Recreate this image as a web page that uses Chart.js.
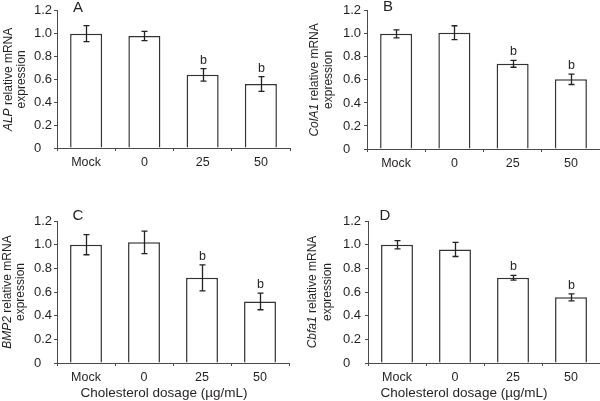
<!DOCTYPE html>
<html>
<head>
<meta charset="utf-8">
<script src="https://cdn.jsdelivr.net/npm/chart.js@4/dist/chart.umd.min.js"></script>
<style>
  html, body { margin: 0; padding: 0; background: #fff; }
  #wrap { position: relative; width: 600px; height: 401px; overflow: hidden; }
  canvas { position: absolute; }
</style>
</head>
<body>
<div id="wrap">
  <canvas id="cA" width="300" height="200" style="left:0;top:0"></canvas>
  <canvas id="cB" width="300" height="200" style="left:300px;top:0"></canvas>
  <canvas id="cC" width="300" height="201" style="left:0;top:200px"></canvas>
  <canvas id="cD" width="300" height="201" style="left:300px;top:200px"></canvas>
</div>
<script>
// ---- data ----
const categories = ['Mock', '0', '25', '50'];
const yTicks = [0, 0.2, 0.4, 0.6, 0.8, 1.0, 1.2];
const significance = ['', '', 'b', 'b'];

const alpValues   = [1.00, 0.98, 0.64, 0.56];
const alpErrors   = [0.07, 0.04, 0.055, 0.065];

const colValues   = [1.00, 1.01, 0.74, 0.605];
const colErrors   = [0.035, 0.06, 0.03, 0.045];

const bmpValues   = [1.00, 1.02, 0.72, 0.52];
const bmpErrors   = [0.085, 0.095, 0.11, 0.07];

const cbfaValues  = [1.00, 0.96, 0.72, 0.555];
const cbfaErrors  = [0.035, 0.06, 0.02, 0.03];

const panelLetters = ['A', 'B', 'C', 'D'];
const geneNames = ['ALP', 'ColA1', 'BMP2', 'Cbfa1'];
const yTitleRest = ' relative mRNA';
const yTitleLine2 = 'expression';
const xTitle = 'Cholesterol dosage (µg/mL)';

// ---- styles ----
const FONT = '"Liberation Sans", Arial, sans-serif';
const TEXT = '#231f20';
const AXIS = '#4a4a4a';
const BAR_EDGE = '#333333';

const annotate = {
  id: 'annotate',
  afterDatasetsDraw(chart, args, opts) {
    const ctx = chart.ctx;
    const y = chart.scales.y;
    const meta = chart.getDatasetMeta(0);
    ctx.save();
    ctx.strokeStyle = '#222';
    ctx.lineWidth = 1.3;
    meta.data.forEach((bar, i) => {
      const v = opts.values[i], e = opts.errors[i];
      const yt = y.getPixelForValue(v + e), yb = y.getPixelForValue(v - e);
      const x = Math.round(bar.x) + 0.5;
      ctx.beginPath();
      ctx.moveTo(x, yt); ctx.lineTo(x, yb);
      ctx.moveTo(x - 3, yt); ctx.lineTo(x + 3, yt);
      ctx.moveTo(x - 3, yb); ctx.lineTo(x + 3, yb);
      ctx.stroke();
      if (significance[i]) {
        ctx.fillStyle = TEXT;
        ctx.font = '12.5px ' + FONT;
        ctx.textAlign = 'center';
        ctx.textBaseline = 'alphabetic';
        ctx.fillText(significance[i], x, yt - 5);
      }
    });
    ctx.restore();
  },
  afterDraw(chart, args, opts) {
    const ctx = chart.ctx;
    const ca = chart.chartArea;
    ctx.save();
    ctx.fillStyle = TEXT;
    // panel letter
    ctx.font = '15px ' + FONT;
    ctx.textAlign = 'center';
    ctx.textBaseline = 'middle';
    ctx.fillText(opts.letter, opts.letterX, opts.letterY);
    // y title (rotated, italic gene name)
    const cy = (ca.top + ca.bottom) / 2;
    ctx.font = 'italic 12px ' + FONT;
    const w1 = ctx.measureText(opts.gene).width;
    ctx.font = '12px ' + FONT;
    const w2 = ctx.measureText(yTitleRest).width;
    ctx.save();
    ctx.translate(opts.title1X, cy);
    ctx.rotate(-Math.PI / 2);
    ctx.textAlign = 'left';
    ctx.textBaseline = 'middle';
    const start = -(w1 + w2) / 2;
    ctx.font = 'italic 12px ' + FONT;
    ctx.fillText(opts.gene, start, 0);
    ctx.font = '12px ' + FONT;
    ctx.fillText(yTitleRest, start + w1, 0);
    ctx.restore();
    ctx.save();
    ctx.translate(opts.title2X, cy);
    ctx.rotate(-Math.PI / 2);
    ctx.textAlign = 'center';
    ctx.textBaseline = 'middle';
    ctx.font = '12px ' + FONT;
    ctx.fillText(yTitleLine2, 0, 0);
    ctx.restore();
    // x title
    if (opts.xTitle) {
      ctx.font = '13.5px ' + FONT;
      ctx.textAlign = 'center';
      ctx.textBaseline = 'middle';
      ctx.fillText(xTitle, opts.xTitleX, opts.xTitleY);
    }
    ctx.restore();
  }
};

function makePanel(cfg) {
  new Chart(document.getElementById(cfg.id), {
    type: 'bar',
    data: {
      labels: categories,
      datasets: [{
        data: cfg.values,
        backgroundColor: '#ffffff',
        borderColor: BAR_EDGE,
        borderWidth: 1.5,
        barPercentage: 0.55,
        categoryPercentage: 1.0
      }]
    },
    options: {
      responsive: false,
      animation: false,
      layout: { padding: cfg.pad },
      plugins: {
        legend: { display: false },
        tooltip: { enabled: false },
        annotate: {
          values: cfg.values, errors: cfg.errors, letter: cfg.letter, gene: cfg.gene,
          letterX: cfg.letterX, letterY: cfg.letterY,
          title1X: cfg.title1X, title2X: cfg.title2X,
          xTitle: cfg.xTitle, xTitleX: cfg.xTitleX, xTitleY: cfg.xTitleY
        }
      },
      scales: {
        x: {
          grid: { offset: true, drawOnChartArea: false, tickLength: 3, color: AXIS, lineWidth: 1 },
          border: { color: AXIS, width: 1 },
          ticks: { color: TEXT, font: { family: FONT, size: 12.5 }, padding: 4, maxRotation: 0 },
          afterFit: s => { s.height = 20; }
        },
        y: {
          min: 0, max: 1.2,
          afterBuildTicks: s => { s.ticks = yTicks.map(v => ({ value: v })); },
          ticks: {
            color: TEXT, font: { family: FONT, size: 13 }, crossAlign: 'far',
            callback: v => (v === 0 ? '0' : Number(v).toFixed(1))
          },
          grid: { drawOnChartArea: false, tickLength: 3, color: AXIS, lineWidth: 1 },
          border: { color: AXIS, width: 1 },
          afterFit: s => { s.width = cfg.axisW; }
        }
      }
    },
    plugins: [annotate]
  });
}

makePanel({ id: 'cA', values: alpValues, errors: alpErrors, letter: panelLetters[0], gene: geneNames[0],
  pad: { left: 34, top: 7, right: 10, bottom: 32 }, axisW: 23,
  letterX: 78, letterY: 8, title1X: 9, title2X: 22, xTitle: false });
makePanel({ id: 'cB', values: colValues, errors: colErrors, letter: panelLetters[1], gene: geneNames[1],
  pad: { left: 43, top: 8, right: 0, bottom: 31 }, axisW: 24,
  letterX: 88, letterY: 7, title1X: 15, title2X: 29, xTitle: false });
makePanel({ id: 'cC', values: bmpValues, errors: bmpErrors, letter: panelLetters[2], gene: geneNames[2],
  pad: { left: 34, top: 21, right: 11, bottom: 18 }, axisW: 23,
  letterX: 78, letterY: 16, title1X: 8, title2X: 21, xTitle: true, xTitleX: 164, xTitleY: 193 });
makePanel({ id: 'cD', values: cbfaValues, errors: cbfaErrors, letter: panelLetters[3], gene: geneNames[3],
  pad: { left: 43, top: 21, right: 0, bottom: 18 }, axisW: 25,
  letterX: 85, letterY: 16, title1X: 13, title2X: 28, xTitle: true, xTitleX: 164, xTitleY: 193 });
</script>
</body>
</html>
